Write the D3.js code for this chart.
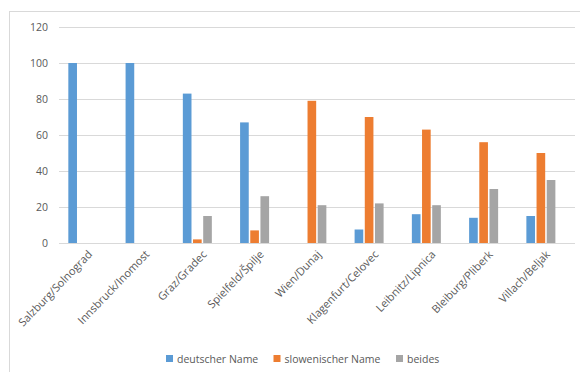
<!DOCTYPE html>
<html>
<head>
<meta charset="utf-8">
<script src="https://cdn.jsdelivr.net/npm/d3@7"></script>
<style>
  body { margin: 0; background: #fff; }
  text { font-family: "Open Sans", "Liberation Sans", sans-serif; fill: #595959; }
</style>
</head>
<body>
<script>
// city names (german/slovenian)
var cities = ["Salzburg/Solnograd", "Innsbruck/Inomost", "Graz/Gradec", "Spielfeld/Špilje",
  "Wien/Dunaj", "Klagenfurt/Celovec", "Leibnitz/Lipnica", "Bleiburg/Pliberk", "Villach/Beljak"];
var seriesNames = ["deutscher Name", "slowenischer Name", "beides"];
var deutsch = [100, 100, 83, 67, 0, 7.5, 16, 14, 15];
var slowenisch = [0, 0, 2, 7, 79, 70, 63, 56, 50];
var beides = [0, 0, 15, 26, 21, 22, 21, 30, 35];
var yTicks = [0, 20, 40, 60, 80, 100, 120];
var colors = ["#5B9BD5", "#ED7D31", "#A5A5A5"];

var w = 580, h = 372;

var svg = d3.select("body").append("svg")
  .attr("width", w)
  .attr("height", h);

// chart border
svg.append("rect")
  .attr("x", 9.5).attr("y", 11.5)
  .attr("width", 600).attr("height", 400)
  .attr("fill", "none")
  .attr("stroke", "#d9d9d9");

var yScale = d3.scaleLinear()
  .domain([0, 120])
  .range([243, 27]);

// gridlines + labels
var yAxis = svg.append("g")
  .attr("transform", "translate(59,0)")
  .call(d3.axisLeft(yScale).tickValues(yTicks).tickSize(-516).tickPadding(11));
yAxis.select(".domain").remove();
yAxis.selectAll("line").attr("stroke", "#d9d9d9");
yAxis.selectAll("text").style("font-size", "10.5px").attr("fill", "#595959");

var xScale = d3.scaleBand()
  .domain(cities)
  .range([54.2, 569.5]);

var inner = d3.scaleBand()
  .domain(seriesNames)
  .range([-14.5, 14.5])
  .paddingInner(0.15);

var data = [deutsch, slowenisch, beides];

var groups = svg.selectAll(".grp")
  .data(cities)
  .enter().append("g")
  .attr("class", "grp")
  .attr("transform", function(d) {
    return "translate(" + (xScale(d) + xScale.bandwidth() / 2) + ",0)";
  });

groups.selectAll("rect")
  .data(function(d, i) {
    return seriesNames.map(function(s, k) { return { s: s, k: k, v: data[k][i] }; });
  })
  .enter().append("rect")
  .filter(function(d) { return d.v > 0; })
  .attr("x", function(d) { return inner(d.s); })
  .attr("width", inner.bandwidth())
  .attr("y", function(d) { return yScale(d.v); })
  .attr("height", function(d) { return yScale(0) - yScale(d.v); })
  .attr("fill", function(d) { return colors[d.k]; });

// baseline
svg.append("line")
  .attr("x1", 59).attr("x2", 575)
  .attr("y1", yScale(0) + 0.5).attr("y2", yScale(0) + 0.5)
  .attr("stroke", "#d9d9d9");

// category labels, rotated
svg.selectAll(".cat")
  .data(cities)
  .enter().append("text")
  .attr("class", "cat")
  .attr("text-anchor", "end")
  .style("font-size", "11px")
  .attr("transform", function(d) {
    var x = xScale(d) + xScale.bandwidth() / 2 + 10;
    return "translate(" + x + ",255) rotate(-46)";
  })
  .text(function(d) { return d; });

// legend
var legX = [166, 273.5, 396];
var legend = svg.selectAll(".leg")
  .data(seriesNames)
  .enter().append("g")
  .attr("class", "leg")
  .attr("transform", function(d, i) { return "translate(" + legX[i] + ",355)"; });

legend.append("rect")
  .attr("width", 7).attr("height", 7)
  .attr("fill", function(d, i) { return colors[i]; });

legend.append("text")
  .attr("x", 11)
  .attr("y", 7.5)
  .style("font-size", "10.5px")
  .text(function(d) { return d; });
</script>
</body>
</html>
